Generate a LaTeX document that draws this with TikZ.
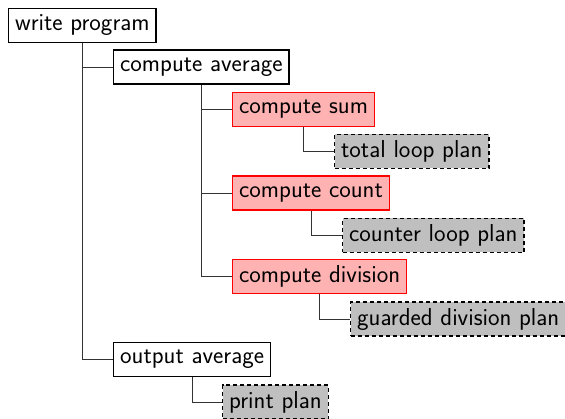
\documentclass[tikz,border=0pt]{standalone}
\begin{document}
\begin{tikzpicture}[x=1pt,y=-1pt,
  every node/.style={font=\sffamily\fontsize{24.5}{28}\selectfont, anchor=west, inner xsep=6.5pt, inner ysep=4pt, minimum height=34pt, line width=1.3pt},
  plain/.style={draw=black, fill=white},
  hot/.style={draw=red, fill=red!30},
  plan/.style={draw=black, fill=black!25, dashed, dash pattern=on 4pt off 3pt},
  link/.style={draw=black!80, line width=0.75pt}]
\useasboundingbox (0,0) rectangle (565,419);
\clip (0,0) rectangle (565,419);
\node[plain] (wp) at (8,25.5) {write program};
\node[plain] (ca) at (113,67) {compute average};
\node[hot] (cs) at (232,109.5) {compute sum};
\node[plan] (tl) at (334,151.5) {total loop plan};
\node[hot] (cc) at (232,193) {compute count};
\node[plan] (cl) at (342,235.5) {counter loop plan};
\node[hot] (cd) at (232,276.5) {compute division};
\node[plan] (gd) at (350,319) {guarded division plan};
\node[plain] (oa) at (113,359.5) {output average};
\node[plan] (pp) at (222,402) {print plan};
\draw[link] (wp.south) |- (ca.west);
\draw[link] (wp.south) |- (oa.west);
\draw[link] (ca.south) |- (cs.west);
\draw[link] (ca.south) |- (cc.west);
\draw[link] (ca.south) |- (cd.west);
\draw[link] (cs.south) |- (tl.west);
\draw[link] (cc.south) |- (cl.west);
\draw[link] (cd.south) |- (gd.west);
\draw[link] (oa.south) |- (pp.west);
\end{tikzpicture}
\end{document}
